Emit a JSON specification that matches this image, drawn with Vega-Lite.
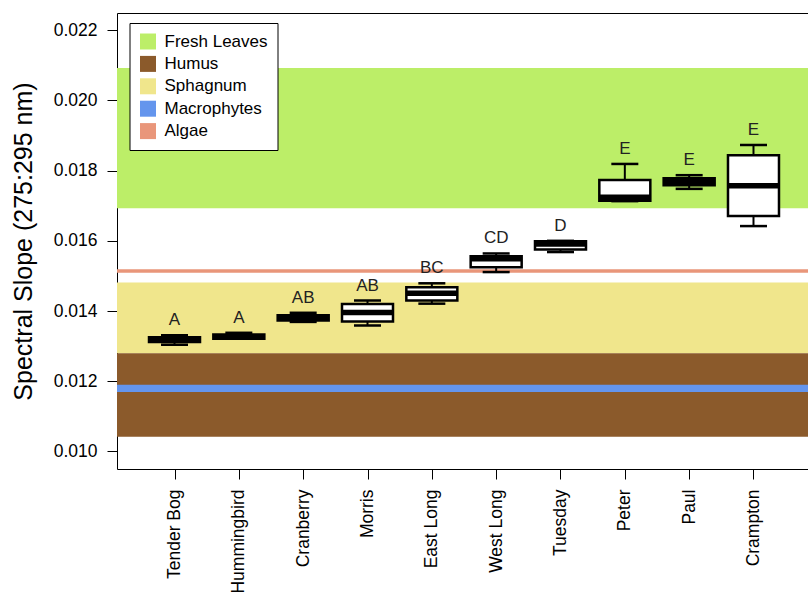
{
  "$schema": "https://vega.github.io/schema/vega-lite/v6.json",
  "width": 694,
  "height": 456,
  "autosize": {"type": "none"},
  "padding": {"left": 117, "top": 13, "right": 0, "bottom": 124},
  "background": "#ffffff",
  "config": {
    "font": "Liberation Sans",
    "view": {"stroke": "#000000", "strokeWidth": 1},
    "axis": {"labelFont": "Liberation Sans", "titleFont": "Liberation Sans", "labelColor": "#000000", "titleColor": "#000000", "tickColor": "#000000", "grid": false, "domain": false}
  },
  "datasets": {
    "bands": [
      {"material": "Fresh Leaves", "lo": 0.01693, "hi": 0.02092},
      {"material": "Sphagnum", "lo": 0.01280, "hi": 0.01481},
      {"material": "Humus", "lo": 0.01042, "hi": 0.01280},
      {"material": "Macrophytes", "lo": 0.01169, "hi": 0.01190},
      {"material": "Algae", "lo": 0.01509, "hi": 0.01519}
    ],
    "sites": [
      {"site": "Tender Bog", "lo": 0.01304, "q1": 0.01312, "med": 0.01318, "q3": 0.01325, "hi": 0.01331, "group": "A"},
      {"site": "Hummingbird", "lo": 0.01321, "q1": 0.01321, "med": 0.01327, "q3": 0.01333, "hi": 0.01338, "group": "A"},
      {"site": "Cranberry", "lo": 0.01369, "q1": 0.01373, "med": 0.01381, "q3": 0.01388, "hi": 0.01395, "group": "AB"},
      {"site": "Morris", "lo": 0.01359, "q1": 0.01370, "med": 0.01396, "q3": 0.01420, "hi": 0.01430, "group": "AB"},
      {"site": "East Long", "lo": 0.01421, "q1": 0.01430, "med": 0.01451, "q3": 0.01468, "hi": 0.01479, "group": "BC"},
      {"site": "West Long", "lo": 0.01511, "q1": 0.01525, "med": 0.01549, "q3": 0.01556, "hi": 0.01564, "group": "CD"},
      {"site": "Tuesday", "lo": 0.01568, "q1": 0.01575, "med": 0.01591, "q3": 0.01599, "hi": 0.01600, "group": "D"},
      {"site": "Peter", "lo": 0.01713, "q1": 0.01714, "med": 0.01724, "q3": 0.01773, "hi": 0.01819, "group": "E"},
      {"site": "Paul", "lo": 0.01748, "q1": 0.01758, "med": 0.01768, "q3": 0.01778, "hi": 0.01787, "group": "E"},
      {"site": "Crampton", "lo": 0.01642, "q1": 0.01671, "med": 0.01757, "q3": 0.01844, "hi": 0.01873, "group": "E"}
    ]
  },
  "layer": [
    {
      "data": {"name": "bands"},
      "mark": {"type": "rect", "opacity": 1},
      "encoding": {
        "y": {
          "field": "lo", "type": "quantitative",
          "title": "Spectral Slope (275:295 nm)",
          "scale": {"domain": [0.0095, 0.02249], "nice": false, "zero": false},
          "axis": {
            "values": [0.010, 0.012, 0.014, 0.016, 0.018, 0.020, 0.022],
            "format": ".3f",
            "tickSize": 10,
            "tickWidth": 1,
            "labelPadding": 10,
            "labelFontSize": 17.5,
            "titleFontSize": 25,
            "titleFontWeight": "normal",
            "titlePadding": 17
          }
        },
        "y2": {"field": "hi"},
        "color": {
          "field": "material", "type": "nominal",
          "scale": {
            "domain": ["Fresh Leaves", "Humus", "Sphagnum", "Macrophytes", "Algae"],
            "range": ["#BCEE68", "#8B5A2B", "#F0E68C", "#6495ED", "#E9967A"]
          },
          "legend": {
            "orient": "none",
            "legendX": 12.5,
            "legendY": 10,
            "title": null,
            "strokeColor": "#000000",
            "fillColor": "#ffffff",
            "padding": 10,
            "symbolType": "square",
            "symbolSize": 256,
            "symbolStrokeWidth": 0,
            "symbolOpacity": 1,
            "labelFontSize": 17,
            "labelColor": "#000000",
            "labelFont": "Liberation Sans",
            "labelOffset": 8,
            "rowPadding": 4.4
          }
        }
      }
    },
    {
      "data": {"name": "sites"},
      "mark": {"type": "rule", "stroke": "#000000", "strokeWidth": 2},
      "encoding": {
        "x": {
          "field": "site", "type": "nominal", "sort": null, "title": null,
          "scale": {"type": "point", "padding": 0.894},
          "axis": {
            "labelAngle": -90,
            "labelAlign": "right",
            "labelBaseline": "middle",
            "tickSize": 10,
            "tickWidth": 1,
            "labelPadding": 10,
            "labelFontSize": 17.5
          }
        },
        "y": {"field": "lo", "type": "quantitative", "title": "Spectral Slope (275:295 nm)"},
        "y2": {"field": "hi"}
      }
    },
    {
      "data": {"name": "sites"},
      "mark": {"type": "tick", "color": "#000000", "size": 27, "thickness": 2.5, "opacity": 1},
      "encoding": {
        "x": {"field": "site", "type": "nominal", "sort": null, "title": null},
        "y": {"field": "lo", "type": "quantitative", "title": "Spectral Slope (275:295 nm)"}
      }
    },
    {
      "data": {"name": "sites"},
      "mark": {"type": "tick", "color": "#000000", "size": 27, "thickness": 2.5, "opacity": 1},
      "encoding": {
        "x": {"field": "site", "type": "nominal", "sort": null, "title": null},
        "y": {"field": "hi", "type": "quantitative", "title": "Spectral Slope (275:295 nm)"}
      }
    },
    {
      "data": {"name": "sites"},
      "mark": {"type": "bar", "width": 51, "fill": "#ffffff", "stroke": "#000000", "strokeWidth": 2.5, "opacity": 1},
      "encoding": {
        "x": {"field": "site", "type": "nominal", "sort": null, "title": null},
        "y": {"field": "q1", "type": "quantitative", "title": "Spectral Slope (275:295 nm)"},
        "y2": {"field": "q3"}
      }
    },
    {
      "data": {"name": "sites"},
      "mark": {"type": "tick", "color": "#000000", "size": 51, "thickness": 5.5, "opacity": 1},
      "encoding": {
        "x": {"field": "site", "type": "nominal", "sort": null, "title": null},
        "y": {"field": "med", "type": "quantitative", "title": "Spectral Slope (275:295 nm)"}
      }
    },
    {
      "data": {"name": "sites"},
      "mark": {"type": "text", "dy": -15, "fontSize": 17, "color": "#222222", "baseline": "middle", "align": "center", "font": "Liberation Sans"},
      "encoding": {
        "x": {"field": "site", "type": "nominal", "sort": null, "title": null},
        "y": {"field": "hi", "type": "quantitative", "title": "Spectral Slope (275:295 nm)"},
        "text": {"field": "group", "type": "nominal"}
      }
    }
  ]
}
